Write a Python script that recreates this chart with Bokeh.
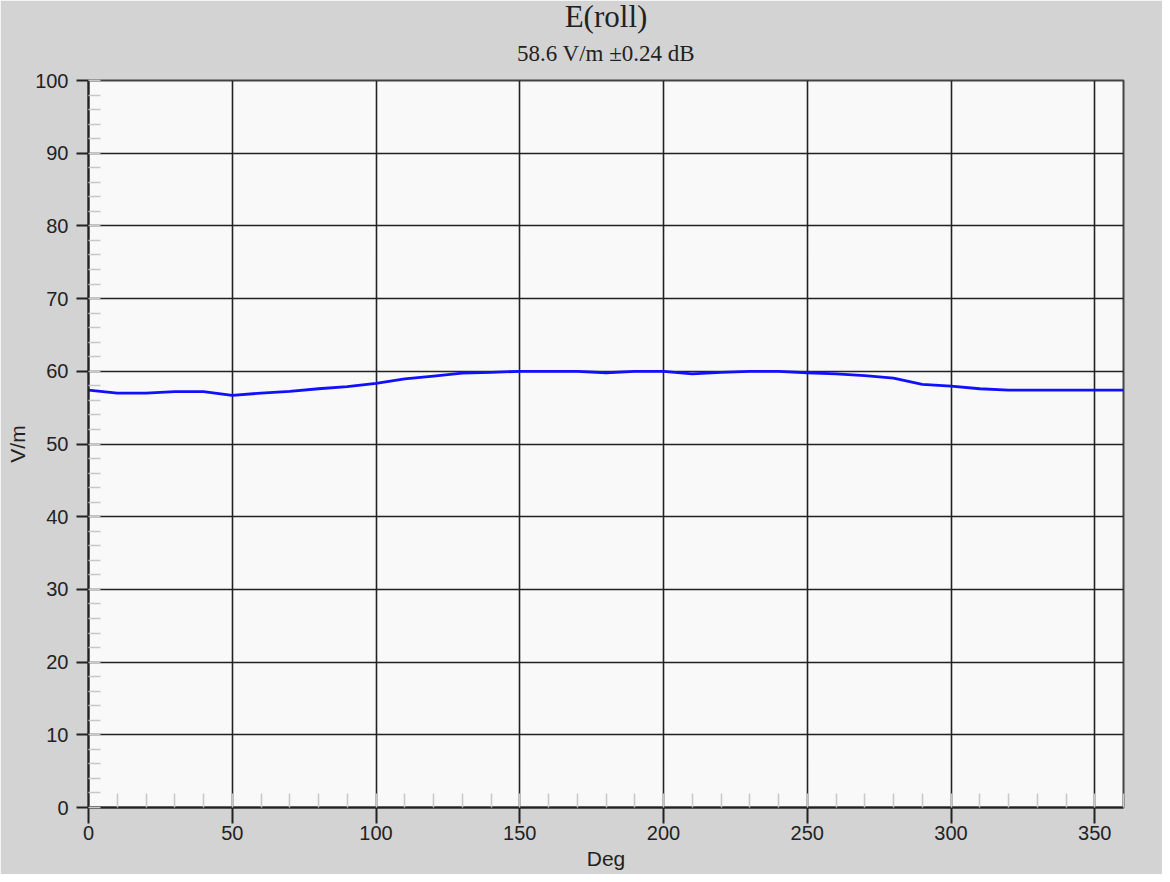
from bokeh.plotting import figure
from bokeh.models import Title, SingleIntervalTicker, Range1d
from bokeh.embed import file_html
from bokeh.resources import INLINE

deg = [0, 10, 20, 30, 40, 50, 60, 70, 80, 90, 100, 110, 120, 130, 140, 150, 160, 170, 180,
       190, 200, 210, 220, 230, 240, 250, 260, 270, 280, 290, 300, 310, 320, 330, 340, 350, 360]
field = [57.4, 57.0, 57.0, 57.2, 57.2, 56.7, 57.0, 57.25, 57.6, 57.9, 58.35, 58.95, 59.35, 59.75,
         59.85, 60.0, 60.0, 60.0, 59.8, 60.0, 60.0, 59.65, 59.85, 60.0, 60.0, 59.8, 59.65, 59.4,
         59.05, 58.2, 57.95, 57.6, 57.4, 57.4, 57.4, 57.4, 57.4]

title_text = "E(roll)"
subtitle_text = "58.6 V/m \u00b10.24 dB"
x_label = "Deg"
y_label = "V/m"

BG = "#d3d3d3"
TXT = "#222222"

p = figure(width=1162, height=874, title=None, output_backend="svg", toolbar_location=None,
           x_range=Range1d(0, 360), y_range=Range1d(0, 100),
           background_fill_color="#f9f9f9", border_fill_color=BG,
           min_border_left=88, min_border_right=39, min_border_top=80, min_border_bottom=67)

p.add_layout(Title(text=subtitle_text, align="center", text_font="Liberation Serif",
                   text_font_size="23px", text_font_style="normal", text_color=TXT, standoff=30), "above")
p.add_layout(Title(text=title_text, align="center", text_font="Liberation Serif",
                   text_font_size="31px", text_font_style="normal", text_color=TXT, standoff=-21), "above")

p.line(deg, field, line_color="#1010ff", line_width=2.8)

p.xaxis.ticker = SingleIntervalTicker(interval=50, num_minor_ticks=5)
p.yaxis.ticker = SingleIntervalTicker(interval=10, num_minor_ticks=5)

for ax in (p.xaxis[0], p.yaxis[0]):
    ax.axis_line_color = "#222222"
    ax.axis_line_width = 2
    ax.major_tick_line_color = "#222222"
    ax.major_tick_line_width = 2
    ax.major_tick_in = 0
    ax.minor_tick_line_color = "#c8c8c8"
    ax.minor_tick_line_width = 1.5
    ax.minor_tick_out = 0
    ax.major_label_text_font = "Liberation Sans"
    ax.major_label_text_font_size = "20px"
    ax.major_label_text_color = TXT
    ax.axis_label_text_font = "Liberation Sans"
    ax.axis_label_text_font_size = "21px"
    ax.axis_label_text_font_style = "normal"
    ax.axis_label_text_color = TXT

p.xaxis.major_tick_out = 16
p.xaxis.minor_tick_in = 14
p.xaxis.major_label_standoff = 2
p.xaxis.axis_label = x_label
p.xaxis.axis_label_standoff = 4

p.yaxis.major_tick_out = 12
p.yaxis.minor_tick_in = 12
p.yaxis.major_label_standoff = 8
p.yaxis.axis_label = y_label
p.yaxis.axis_label_standoff = 3

p.xgrid.ticker = p.xaxis.ticker
p.ygrid.ticker = p.yaxis.ticker
p.grid.grid_line_color = "#222222"
p.grid.grid_line_width = 1.6

p.outline_line_color = "#444444"
p.outline_line_width = 2

open("out.html", "w").write(file_html(p, INLINE))
